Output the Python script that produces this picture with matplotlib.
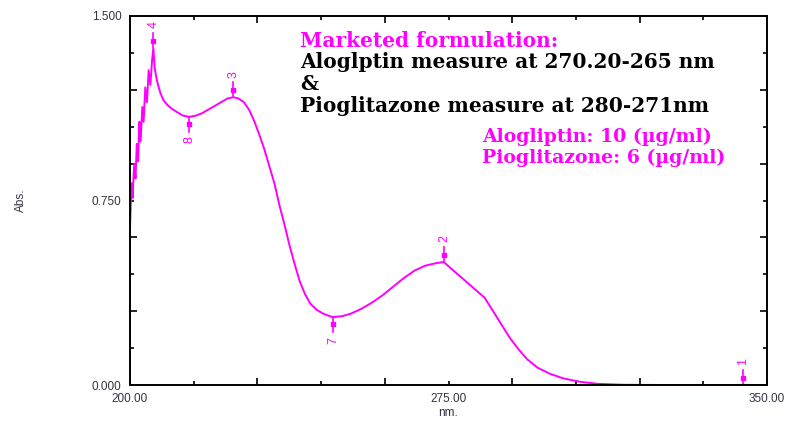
import numpy as np
import matplotlib
matplotlib.use("Agg")
import matplotlib.pyplot as plt

# ---- data ----
wavelength = [200.0, 200.2, 200.4, 200.6, 201.0, 201.3, 201.6, 201.9, 202.2, 202.5,
              202.9, 203.2, 203.6, 204.0, 204.4, 204.8, 205.2, 205.5, 205.8, 206.2,
              206.6, 207.1, 207.8, 208.7, 209.7, 211.0, 212.5, 214.0, 215.5, 217.0,
              218.5, 220.0, 221.5, 223.0, 224.3, 225.5, 226.8, 228.0, 229.2, 230.4,
              231.6, 232.8, 234.0, 235.2, 236.4, 237.6, 238.8, 240.0, 241.2, 242.5,
              244.0, 245.5, 247.0, 247.8, 250.0, 252.0, 254.5, 257.0, 259.5, 262.0,
              264.5, 267.0, 269.5, 272.0, 273.9, 275.5, 277.5, 279.5, 281.5, 283.5,
              285.5, 287.5, 289.5, 291.5, 293.5, 296.0, 299.0, 302.0, 306.0, 310.0,
              316.0, 325.0, 335.0, 344.3, 350.0]
absorbance = [0.64, 0.74, 0.82, 0.76, 0.90, 0.84, 0.98, 0.91, 1.07, 0.99,
              1.13, 1.07, 1.21, 1.15, 1.28, 1.22, 1.32, 1.37, 1.29, 1.25,
              1.22, 1.19, 1.16, 1.14, 1.125, 1.11, 1.095, 1.09, 1.095, 1.105,
              1.12, 1.135, 1.15, 1.165, 1.17, 1.165, 1.15, 1.12, 1.075, 1.02,
              0.96, 0.89, 0.82, 0.73, 0.65, 0.565, 0.49, 0.42, 0.37, 0.33,
              0.305, 0.29, 0.28, 0.276, 0.28, 0.29, 0.31, 0.335, 0.365, 0.40,
              0.435, 0.465, 0.485, 0.495, 0.50, 0.475, 0.445, 0.415, 0.385, 0.355,
              0.30, 0.245, 0.19, 0.145, 0.105, 0.07, 0.045, 0.027, 0.013, 0.005,
              0.001, 0.0, 0.0, 0.0, 0.0]

pick_labels = ['1', '2', '3', '4', '7', '8']
pick_wl = [344.3, 273.9, 224.3, 205.5, 247.8, 214.0]
pick_kind = ['peak', 'peak', 'peak', 'peak', 'valley', 'valley']

x_label_ticks = [200, 215, 245, 275, 305, 335, 350]
x_label_text = ['200.00', '', '', '275.00', '', '', '350.00']
x_long_ticks = [230, 260, 290, 320]
y_label_ticks = [0.0, 0.15, 0.45, 0.75, 1.05, 1.35, 1.5]
y_label_text = ['0.000', '', '', '0.750', '', '', '1.500']
y_long_ticks = [0.3, 0.6, 0.9, 1.2]

MAG = '#FF00FF'

fig = plt.figure(figsize=(7.9, 4.21), dpi=100)
ax = fig.add_axes([130/790, 36/421, 637/790, 369/421])

ax.plot(wavelength, absorbance, color=MAG, lw=1.4)
ax.set_xlim(200, 350)
ax.set_ylim(0, 1.5)

# ticks
ax.set_xticks(x_long_ticks)
ax.set_xticklabels([])
ax.set_xticks(x_label_ticks, minor=True)
ax.set_xticklabels(x_label_text, minor=True)
ax.set_yticks(y_long_ticks)
ax.set_yticklabels([])
ax.set_yticks(y_label_ticks, minor=True)
ax.set_yticklabels(y_label_text, minor=True)
ax.tick_params(which='both', direction='in', top=True, right=True,
               colors='black', labelcolor='#333344', labelsize=8.5,
               labelfontfamily='Liberation Sans')
ax.tick_params(which='major', length=5, width=1.2)
ax.tick_params(which='minor', length=3, width=1.2)
ax.tick_params(axis='x', which='minor', pad=6)
ax.tick_params(axis='y', which='minor', pad=6)
for s in ax.spines.values():
    s.set_linewidth(1.4)
    s.set_color('black')

ax.set_xlabel('nm.', fontsize=8.5, family='Liberation Sans', color='#333344', labelpad=1)
ax.set_ylabel('Abs.', fontsize=8.5, family='Liberation Sans', color='#333344', labelpad=47)

# pick markers
for lab, w, k in zip(pick_labels, pick_wl, pick_kind):
    a = float(np.interp(w, wavelength, absorbance))
    if k == 'peak':
        y0, y1, ym, yt, va = a + 0.005, a + 0.06, a + 0.03, a + 0.08, 'bottom'
    else:
        y0, y1, ym, yt, va = a - 0.005, a - 0.06, a - 0.03, a - 0.08, 'top'
    ax.plot([w, w], [y0, y1], color=MAG, lw=1.2)
    ax.plot([w], [ym], marker='s', ms=3.5, color=MAG)
    ax.text(w, yt, lab, rotation=90, ha='center', va=va, color=MAG,
            fontsize=9, family='Liberation Sans')

# annotations
serif = 'DejaVu Serif'
fs = 14.5
fs2 = 13.6
ax.text(240.0, 1.40, 'Marketed formulation:', color=MAG, fontsize=fs,
        fontweight='bold', family=serif, ha='left', va='center')
ax.text(240.0, 1.313, 'Aloglptin measure at 270.20-265 nm', color='black', fontsize=fs,
        fontweight='bold', family=serif, ha='left', va='center')
ax.text(240.0, 1.224, '&', color='black', fontsize=fs,
        fontweight='bold', family=serif, ha='left', va='center')
ax.text(240.0, 1.134, 'Pioglitazone measure at 280-271nm', color='black', fontsize=fs,
        fontweight='bold', family=serif, ha='left', va='center')
ax.text(282.9, 1.008, 'Alogliptin: 10 (\u00b5g/ml)', color=MAG, fontsize=fs2,
        fontweight='bold', family=serif, ha='left', va='center')
ax.text(282.9, 0.923, 'Pioglitazone: 6 (\u00b5g/ml)', color=MAG, fontsize=fs2,
        fontweight='bold', family=serif, ha='left', va='center')

fig.savefig('out.png', dpi=100)
